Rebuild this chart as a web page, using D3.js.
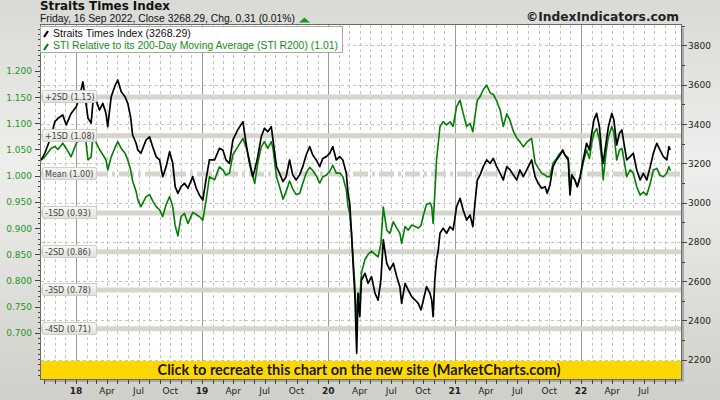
<!DOCTYPE html>
<html><head><meta charset="utf-8">
<script src="https://cdn.jsdelivr.net/npm/d3@7"></script>
<style>html,body{margin:0;padding:0;background:#e4e4e0;} svg{display:block;}</style>
</head><body>
<svg id="c" width="720" height="400"></svg>
<script>
const dates = ["2017-09-22","2017-10-03","2017-10-21","2017-11-01","2017-11-10","2017-11-24","2017-12-04","2017-12-18","2018-01-02","2018-01-12",
"2018-01-21","2018-01-26","2018-02-05","2018-02-14","2018-02-19","2018-02-28","2018-03-10","2018-03-20","2018-03-29","2018-04-03",
"2018-04-13","2018-04-23","2018-05-02","2018-05-12","2018-05-23","2018-05-31","2018-06-08","2018-06-14","2018-06-24","2018-06-29",
"2018-07-08","2018-07-23","2018-08-02","2018-08-11","2018-08-21","2018-08-31","2018-09-09","2018-09-19","2018-09-29","2018-10-08",
"2018-10-15","2018-10-23","2018-11-01","2018-11-11","2018-11-21","2018-12-05","2018-12-15","2018-12-24","2019-01-03","2019-01-13",
"2019-01-22","2019-02-06","2019-02-20","2019-03-02","2019-03-11","2019-03-21","2019-03-31","2019-04-14","2019-04-29","2019-05-08",
"2019-05-18","2019-05-27","2019-06-02","2019-06-11","2019-06-21","2019-06-30","2019-07-10","2019-07-20","2019-07-25","2019-08-04",
"2019-08-13","2019-08-23","2019-09-01","2019-09-11","2019-09-20","2019-09-30","2019-10-10","2019-10-19","2019-10-29","2019-11-08",
"2019-11-17","2019-11-27","2019-12-07","2019-12-16","2019-12-26","2020-01-05","2020-01-14","2020-01-24","2020-02-03","2020-02-12",
"2020-02-22","2020-02-27","2020-03-03","2020-03-08","2020-03-13","2020-03-18","2020-03-23","2020-03-27","2020-04-01","2020-04-06",
"2020-04-16","2020-04-25","2020-05-05","2020-05-15","2020-05-24","2020-06-01","2020-06-08","2020-06-18","2020-06-27","2020-07-07",
"2020-07-17","2020-07-26","2020-07-31","2020-08-10","2020-08-19","2020-08-29","2020-09-08","2020-09-17","2020-09-25","2020-10-02",
"2020-10-11","2020-10-21","2020-10-26","2020-10-30","2020-11-04","2020-11-09","2020-11-14","2020-11-19","2020-11-28","2020-12-08",
"2020-12-18","2020-12-27","2021-01-06","2021-01-16","2021-01-25","2021-02-04","2021-02-14","2021-02-22","2021-02-28","2021-03-07",
"2021-03-15","2021-03-24","2021-04-03","2021-04-13","2021-04-22","2021-05-02","2021-05-12","2021-05-21","2021-05-31","2021-06-10",
"2021-06-19","2021-06-29","2021-07-08","2021-07-18","2021-07-28","2021-08-06","2021-08-11","2021-08-21","2021-08-30","2021-09-09",
"2021-09-19","2021-09-25","2021-10-03","2021-10-12","2021-10-22","2021-11-01","2021-11-09","2021-11-15","2021-11-25","2021-11-30",
"2021-12-05","2021-12-14","2021-12-21","2021-12-29","2022-01-07","2022-01-17","2022-01-25","2022-02-01","2022-02-07","2022-02-15",
"2022-02-23","2022-03-02","2022-03-06","2022-03-14","2022-03-21","2022-03-31","2022-04-06","2022-04-14","2022-04-22","2022-04-29",
"2022-05-05","2022-05-13","2022-05-23","2022-06-01","2022-06-11","2022-06-21","2022-06-30","2022-07-10","2022-07-20","2022-07-29",
"2022-08-08","2022-08-17","2022-08-27","2022-09-06","2022-09-12","2022-09-16"];

const sti = [3215,3251,3335,3412,3429,3446,3395,3454,3488,3539,
3615,3558,3429,3405,3507,3522,3471,3505,3454,3386,
3539,3590,3624,3564,3539,3505,3437,3344,3302,3268,
3251,3319,3335,3284,3234,3217,3132,3183,3259,3200,
3081,3047,3081,3098,3073,3132,3073,3039,3013,3124,
3217,3217,3276,3268,3217,3200,3319,3370,3412,3302,
3200,3132,3166,3234,3335,3378,3361,3386,3319,3183,
3149,3107,3132,3217,3141,3115,3141,3183,3242,3285,
3242,3217,3183,3225,3234,3251,3285,3217,3234,3217,
3149,3047,2996,2844,2674,2521,2233,2538,2419,2606,
2640,2589,2623,2538,2504,2606,2810,2691,2657,2691,
2623,2572,2487,2589,2555,2521,2504,2487,2454,2504,
2572,2538,2504,2419,2606,2708,2759,2844,2869,2844,
2877,2861,2979,3022,2962,2911,2937,2877,2996,3115,
3141,3183,3217,3200,3225,3183,3149,3115,3183,3166,
3141,3115,3166,3132,3166,3200,3217,3132,3098,3073,
3081,3047,3090,3183,3217,3242,3268,3242,3217,3039,
3141,3115,3081,3132,3217,3302,3268,3353,3420,3454,
3386,3251,3200,3302,3386,3454,3420,3293,3353,3370,
3302,3217,3234,3251,3166,3115,3149,3115,3183,3251,
3302,3268,3234,3217,3285,3268.29];

const r200 = [1.030,1.036,1.052,1.056,1.050,1.062,1.052,1.036,1.062,1.069,
1.080,1.087,1.030,1.036,1.075,1.064,1.050,1.040,1.030,1.011,
1.036,1.052,1.065,1.052,1.043,1.030,1.012,0.990,0.970,0.954,
0.941,0.960,0.964,0.952,0.941,0.935,0.922,0.945,0.960,0.941,
0.905,0.885,0.922,0.928,0.909,0.930,0.926,0.922,0.915,0.955,
0.998,0.992,1.017,1.011,1.001,1.005,1.040,1.055,1.071,1.055,
1.030,1.001,0.985,1.024,1.055,1.065,1.052,1.065,1.052,0.998,
0.979,0.955,0.970,0.990,0.975,0.964,0.966,0.985,1.005,1.016,
1.010,1.000,0.986,0.998,1.001,1.008,1.020,1.005,1.005,0.998,
0.973,0.941,0.928,0.890,0.839,0.788,0.720,0.776,0.765,0.815,
0.840,0.850,0.856,0.850,0.845,0.870,0.940,0.896,0.890,0.912,
0.900,0.890,0.871,0.903,0.896,0.906,0.903,0.900,0.905,0.925,
0.945,0.948,0.941,0.909,0.966,1.030,1.062,1.094,1.103,1.097,
1.103,1.094,1.132,1.144,1.119,1.094,1.100,1.084,1.113,1.144,
1.151,1.164,1.173,1.158,1.155,1.143,1.125,1.094,1.118,1.105,
1.085,1.072,1.065,1.055,1.064,1.069,1.071,1.025,1.015,1.005,
1.001,0.998,0.998,1.024,1.033,1.043,1.046,1.040,1.034,0.966,
1.001,0.992,0.979,0.995,1.024,1.049,1.033,1.062,1.081,1.090,
1.068,1.030,0.992,1.043,1.074,1.094,1.081,1.030,1.049,1.052,
1.030,0.998,1.011,1.005,0.979,0.963,0.969,0.963,0.985,1.011,
1.014,1.001,0.998,1.005,1.017,1.010];

const bandValues = [1.150, 1.076, 1.003, 0.929, 0.855, 0.782, 0.708];
const bandLabels = ["+2SD (1.15)","+1SD (1.08)","Mean (1.00)","-1SD (0.93)","-2SD (0.86)","-3SD (0.78)","-4SD (0.71)"];
const leftTicks = [0.700,0.750,0.800,0.850,0.900,0.950,1.000,1.050,1.100,1.150,1.200];
const rightTicks = [2200,2400,2600,2800,3000,3200,3400,3600,3800];
const yearLabels = ["18","19","20","21","22"];
const quarterLabels = ["Apr","Jul","Oct"];

const titleText = "Straits Times Index";
const subtitleText = "Friday, 16 Sep 2022, Close 3268.29, Chg. 0.31 (0.01%)";
const copyrightText = "\u00A9IndexIndicators.com";
const legendTexts = ["Straits Times Index (3268.29)", "STI Relative to its 200-Day Moving Average (STI R200) (1.01)"];
const bannerText = "Click to recreate this chart on the new site (MarketCharts.com)";

const W = 720, H = 400;
const L = 41, R = 681, T = 25, B = 379;
const svg = d3.select("#c");
const parse = d3.utcParse("%Y-%m-%d");
const data = dates.map((d,i)=>({d:parse(d), p:sti[i], r:r200[i]}));

const x = d3.scaleUtc().domain([parse("2017-09-22"), parse("2022-10-17")]).range([L, R]);
const yR = d3.scaleLinear().domain([2102, 3904]).range([B, T]);
const yL = d3.scaleLinear().domain([0.612, 1.2876]).range([B, T]);

const defs = svg.append("defs");
const bg = defs.append("linearGradient").attr("id","bg").attr("x1",0).attr("y1",0).attr("x2",0).attr("y2",1);
bg.append("stop").attr("offset","0%").attr("stop-color","#d9d9d5");
bg.append("stop").attr("offset","40%").attr("stop-color","#eeeeec");
bg.append("stop").attr("offset","100%").attr("stop-color","#d0d0ca");
const lg = defs.append("linearGradient").attr("id","lbl").attr("x1",0).attr("y1",0).attr("x2",0).attr("y2",1);
lg.append("stop").attr("offset","0%").attr("stop-color","#f8f8f6");
lg.append("stop").attr("offset","100%").attr("stop-color","#e0e0da");
defs.append("clipPath").attr("id","clip").append("rect").attr("x",L).attr("y",T).attr("width",R-L).attr("height",B-T);

svg.append("rect").attr("width",W).attr("height",H).attr("fill","url(#bg)");

svg.append("rect").attr("x",L+3).attr("y",T+3).attr("width",R-L).attr("height",B-T).attr("fill","#a9a9a5");
svg.append("rect").attr("x",L).attr("y",T).attr("width",R-L).attr("height",B-T).attr("fill","#ffffff");

const grid = svg.append("g").attr("clip-path","url(#clip)");
const months = d3.utcMonth.range(parse("2017-10-01"), parse("2022-10-17"));
grid.selectAll("line.vm").data(months.filter(m=>m.getUTCMonth()!==0)).join("line")
  .attr("x1",d=>Math.round(x(d))+0.5).attr("x2",d=>Math.round(x(d))+0.5).attr("y1",T).attr("y2",B)
  .attr("stroke","#c4c4c4").attr("stroke-dasharray","3,3");
grid.selectAll("line.hg").data(rightTicks).join("line")
  .attr("x1",L).attr("x2",R).attr("y1",d=>Math.round(yR(d))+0.5).attr("y2",d=>Math.round(yR(d))+0.5)
  .attr("stroke","#c4c4c4").attr("stroke-dasharray","3,3");
grid.selectAll("line.vy").data(months.filter(m=>m.getUTCMonth()===0)).join("line")
  .attr("x1",d=>Math.round(x(d))+0.5).attr("x2",d=>Math.round(x(d))+0.5).attr("y1",T).attr("y2",B)
  .attr("stroke","#9a9a9a");

grid.selectAll("line.band").data(bandValues).join("line")
  .attr("x1",L).attr("x2",R).attr("y1",d=>yL(d)).attr("y2",d=>yL(d))
  .attr("stroke","#d5d5cd").attr("stroke-width",5)
  .attr("stroke-dasharray",(d,i)=> i===2 ? "15,4,3,4" : null);

const lineG = svg.append("g").attr("clip-path","url(#clip)");
lineG.append("path").datum(data)
  .attr("d", d3.line().x(d=>x(d.d)).y(d=>yL(d.r)))
  .attr("fill","none").attr("stroke","#008000").attr("stroke-width",1.6).attr("stroke-linejoin","round");
lineG.append("path").datum(data)
  .attr("d", d3.line().x(d=>x(d.d)).y(d=>yR(d.p)))
  .attr("fill","none").attr("stroke","#000000").attr("stroke-width",1.7).attr("stroke-linejoin","round");

const bl = svg.append("g");
bandValues.forEach((v,i)=>{
  const yy = Math.round(yL(v));
  bl.append("rect").attr("x",42.5).attr("y",yy-6.5).attr("width",54).attr("height",12).attr("rx",1.5)
    .attr("fill","url(#lbl)").attr("stroke","#cfcfc8");
  bl.append("text").attr("x",45).attr("y",yy+3).attr("font-family","DejaVu Sans").attr("font-size",8)
    .attr("fill","#444").text(bandLabels[i]);
});

svg.append("rect").attr("x",L).attr("y",361).attr("width",R-L).attr("height",B-361).attr("fill","#ffd700");
function fit(sel, w){
  const n = sel.node(); const cur = parseFloat(sel.attr("font-size"));
  const m = n.getComputedTextLength(); if(m>0) sel.attr("font-size", (cur*w/m).toFixed(2));
  return sel;
}
fit(svg.append("text").attr("x",359).attr("y",375).attr("text-anchor","middle").attr("font-family","Lato").attr("font-weight","bold")
  .attr("font-size",13).attr("fill","#1a1a1a").text(bannerText), 403);

svg.append("rect").attr("x",L-0.5).attr("y",T-0.5).attr("width",R-L+1).attr("height",B-T+1)
  .attr("fill","none").attr("stroke","#6a6a6a");

const la = svg.append("g");
const minorL = d3.range(62, 129).map(v=>v/100);
la.selectAll("line.mn").data(minorL).join("line")
  .attr("x1",38).attr("x2",L-1).attr("y1",d=>Math.round(yL(d))+0.5).attr("y2",d=>Math.round(yL(d))+0.5).attr("stroke","#444");
la.selectAll("line.mj").data(leftTicks).join("line")
  .attr("x1",35).attr("x2",L-1).attr("y1",d=>Math.round(yL(d))+0.5).attr("y2",d=>Math.round(yL(d))+0.5).attr("stroke","#444");
la.selectAll("text").data(leftTicks).join("text")
  .attr("x",32).attr("y",d=>yL(d)+3.5).attr("text-anchor","end").attr("font-family","DejaVu Sans").attr("font-size",9)
  .attr("fill","#1f961f").text(d=>d3.format(".3f")(d));

const ra = svg.append("g");
const minorR = d3.range(2200, 3901, 100);
ra.selectAll("line.mn").data(minorR).join("line")
  .attr("x1",R+1).attr("x2",R+4).attr("y1",d=>Math.round(yR(d))+0.5).attr("y2",d=>Math.round(yR(d))+0.5).attr("stroke","#444");
ra.selectAll("line.mj").data(rightTicks).join("line")
  .attr("x1",R+1).attr("x2",R+6).attr("y1",d=>Math.round(yR(d))+0.5).attr("y2",d=>Math.round(yR(d))+0.5).attr("stroke","#444");
ra.selectAll("text").data(rightTicks).join("text")
  .attr("x",688).attr("y",d=>yR(d)+3.5).attr("font-family","DejaVu Sans").attr("font-size",9)
  .attr("fill","#222").text(d=>d);

const ba = svg.append("g");
ba.selectAll("line").data(months).join("line")
  .attr("x1",d=>Math.round(x(d))+0.5).attr("x2",d=>Math.round(x(d))+0.5).attr("y1",B+1).attr("y2",B+5).attr("stroke","#444");
const labeled = months.filter(m=>m.getUTCMonth()%3===0 && m>=parse("2018-01-01") && m<=parse("2022-07-01"));
ba.selectAll("text").data(labeled).join("text")
  .attr("x",d=>x(d)).attr("y",394).attr("text-anchor","middle").attr("font-family","DejaVu Sans").attr("font-size",9)
  .attr("font-weight",d=>d.getUTCMonth()===0?"bold":"normal").attr("fill","#222")
  .text(d=>{const mo=d.getUTCMonth(); return mo===0 ? yearLabels[d.getUTCFullYear()-2018] : quarterLabels[mo/3-1];});

fit(svg.append("text").attr("x",40).attr("y",10).attr("font-family","DejaVu Sans").attr("font-weight","bold")
  .attr("font-size",12).attr("fill","#111").text(titleText), 130);
fit(svg.append("text").attr("x",40).attr("y",21.5).attr("font-family","Liberation Sans").attr("font-size",10)
  .attr("fill","#111").text(subtitleText), 255);
svg.append("path").attr("d","M299,22.5 L310,22.5 L304.5,17.5 Z").attr("fill","#1a9a1a");
fit(svg.append("text").attr("x",679).attr("y",20.5).attr("text-anchor","end").attr("font-family","DejaVu Sans").attr("font-weight","bold")
  .attr("font-size",11).attr("fill","#222").text(copyrightText), 153);

svg.append("rect").attr("x",40.5).attr("y",26.5).attr("width",302).attr("height",26).attr("fill","#fff").attr("stroke","#a8a8a8");
svg.append("line").attr("x1",44).attr("y1",37).attr("x2",48).attr("y2",31).attr("stroke","#000").attr("stroke-width",2.2);
svg.append("line").attr("x1",44).attr("y1",50).attr("x2",48).attr("y2",44).attr("stroke","#008000").attr("stroke-width",2.2);
fit(svg.append("text").attr("x",53).attr("y",37).attr("font-family","Liberation Sans").attr("font-size",10)
  .attr("fill","#111").text(legendTexts[0]), 138);
fit(svg.append("text").attr("x",53).attr("y",49).attr("font-family","Liberation Sans").attr("font-size",10)
  .attr("fill","#168c16").text(legendTexts[1]), 285);
</script>
</body></html>
